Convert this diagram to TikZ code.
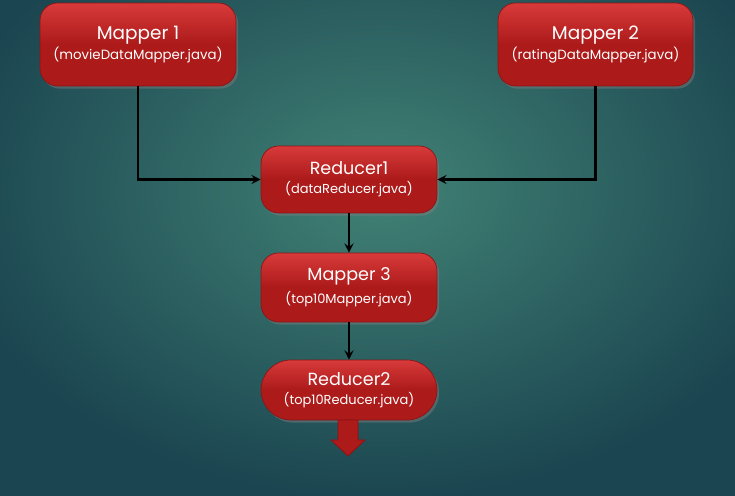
\documentclass[tikz,border=0pt]{standalone}
\usepackage{fontspec}
\setsansfont{Poppins}
\usetikzlibrary{shadows}

\definecolor{bgin}{HTML}{418275}
\definecolor{bgout}{HTML}{1B4550}
\definecolor{boxtop}{HTML}{D83A3A}
\definecolor{boxbot}{HTML}{AC1A1A}
\definecolor{boxline}{HTML}{8E1414}

\tikzset{
    jobbox/.style={draw=boxline, top color=boxtop, bottom color=boxbot,
        middle color=boxbot, rounded corners=10pt, text=white,
        font=\sffamily, align=center, inner sep=0pt,
        drop shadow={opacity=0.45, shadow xshift=1.2pt, shadow yshift=-1.5pt}},
    link/.style={->, >=stealth, line width=1.3pt, black}
}

\begin{document}
\begin{tikzpicture}[x=0.02cm, y=-0.02cm]
    % background
    \useasboundingbox (0,0) rectangle (735,496);
    \shade[inner color=bgin, outer color=bgout] (-60,-120) rectangle (820,500);

    \coordinate (m1pos) at (138,44.5);
    \coordinate (m2pos) at (595.5,44.5);
    \coordinate (r1pos) at (349,179.5);
    \coordinate (m3pos) at (349,287.5);
    \coordinate (r2pos) at (349,390);

    \node[jobbox, minimum width=3.92cm, minimum height=1.66cm] (mapper1) at (m1pos)
        {{\fontsize{10.5}{12}\selectfont Mapper 1}\\[-1pt]{\fontsize{7.6}{9}\selectfont (movieDataMapper.java)}};
    \node[jobbox, minimum width=3.9cm, minimum height=1.66cm] (mapper2) at (m2pos)
        {{\fontsize{10.5}{12}\selectfont Mapper 2}\\[-1pt]{\fontsize{7.6}{9}\selectfont (ratingDataMapper.java)}};
    \node[jobbox, minimum width=3.52cm, minimum height=1.34cm] (reducer1) at (r1pos)
        {{\fontsize{10}{12}\selectfont Reducer1}\\[-1pt]{\fontsize{7.4}{9}\selectfont (dataReducer.java)}};
    \node[jobbox, minimum width=3.52cm, minimum height=1.38cm] (mapper3) at (m3pos)
        {{\fontsize{10}{12}\selectfont Mapper 3}\\[1pt]{\fontsize{7.4}{9}\selectfont (top10Mapper.java)}};
    \node[jobbox, rounded corners=0.6cm, minimum width=3.52cm, minimum height=1.2cm] (reducer2) at (r2pos)
        {{\fontsize{10}{12}\selectfont Reducer2}\\[-1pt]{\fontsize{7.4}{9}\selectfont (top10Reducer.java)}};

    \draw[link] (mapper1.south) |- (reducer1.west);
    \draw[link] (mapper2.south) |- (reducer1.east);
    \draw[link] (reducer1) -- (mapper3);
    \draw[link] (mapper3) -- (reducer2);

    % output arrow
    \fill[boxbot, draw=boxline, line width=0.5pt]
        (338,420) -- (358,420) -- (358,440) -- (365,440) -- (348,456)
        -- (331,440) -- (338,440) -- cycle;
\end{tikzpicture}
\end{document}
